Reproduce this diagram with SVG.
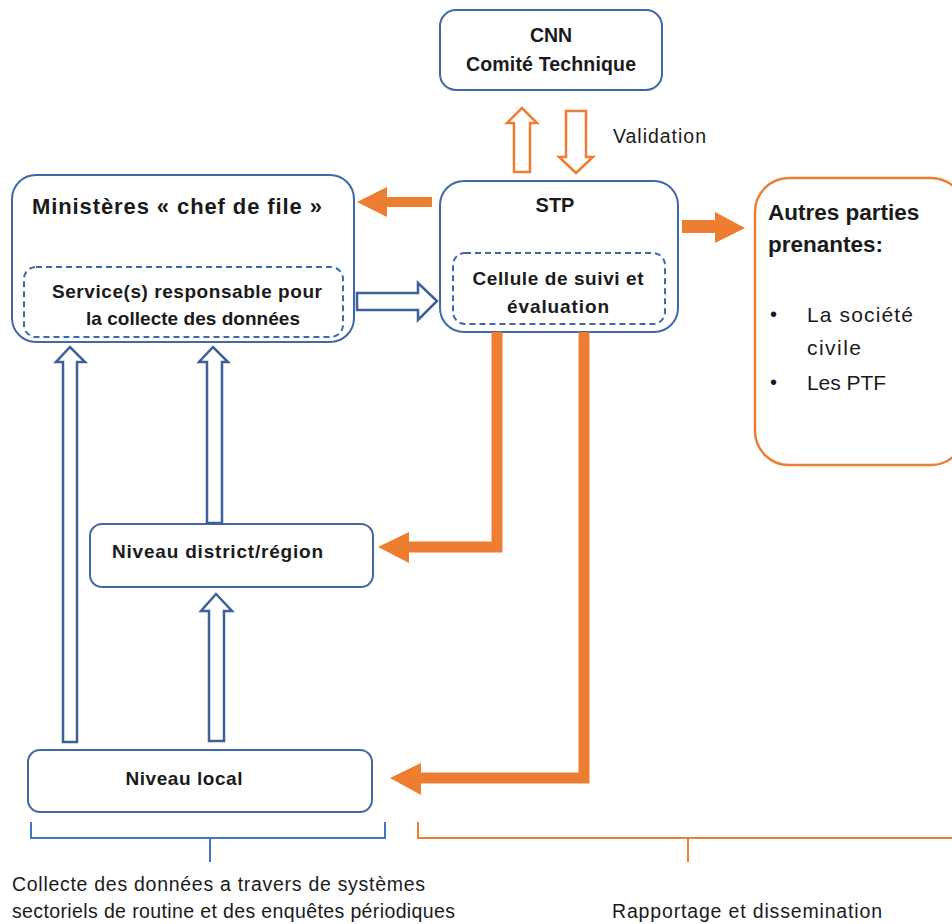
<svg xmlns="http://www.w3.org/2000/svg" width="952" height="924" viewBox="0 0 952 924">
<style>
.box{fill:#fff;stroke:#4068a8;stroke-width:2}
.dash{fill:none;stroke:#4068a8;stroke-width:2;stroke-dasharray:6 4}
.obox{fill:#fff;stroke:#ED7D31;stroke-width:2.5}
.hb{fill:#fff;stroke:#3d5f9a;stroke-width:2.5;stroke-linejoin:miter}
.ho{fill:#fff;stroke:#ED7D31;stroke-width:2.5;stroke-linejoin:miter}
.of{fill:#ED7D31}
.ol{fill:none;stroke:#ED7D31;stroke-width:11;stroke-linejoin:miter}
.bl{fill:none;stroke:#4472C4;stroke-width:2}
.ob{fill:none;stroke:#ED7D31;stroke-width:2}
text{font-family:"Liberation Sans",Arial,sans-serif;fill:#1a1a1a}
.b{font-weight:bold}
</style>
<rect width="952" height="924" fill="#fff"/>

<g id="cnn">
<rect class="box" x="440" y="10" width="222" height="80" rx="16"/>
<text class="b" x="551" y="42" font-size="19.5" text-anchor="middle">CNN</text>
<text class="b" x="551" y="71" font-size="19.5" text-anchor="middle" textLength="170">Comité Technique</text>
</g>

<g id="stp">
<rect class="box" x="440" y="181" width="238" height="151" rx="24"/>
<text class="b" x="555" y="212" font-size="20" text-anchor="middle">STP</text>
<rect class="dash" x="453" y="253" width="212" height="71" rx="12"/>
<text class="b" x="558" y="285" font-size="19" text-anchor="middle" textLength="171">Cellule de suivi et</text>
<text class="b" x="558" y="313" font-size="19" text-anchor="middle" textLength="102">évaluation</text>
</g>

<g id="ministeres">
<rect class="box" x="12" y="175" width="342" height="167" rx="24"/>
<text class="b" x="32" y="214" font-size="22" textLength="290">Ministères « chef de file »</text>
<rect class="dash" x="24" y="267" width="319" height="70" rx="12"/>
<text class="b" x="187" y="298" font-size="19" text-anchor="middle" textLength="270">Service(s) responsable pour</text>
<text class="b" x="193" y="325" font-size="19" text-anchor="middle" textLength="214">la collecte des données</text>
</g>

<g id="autres">
<rect class="obox" x="755" y="178" width="210" height="287" rx="34"/>
<text class="b" x="768" y="220" font-size="22.5">Autres parties</text>
<text class="b" x="768" y="252" font-size="22.5">prenantes:</text>
<text x="770" y="321" font-size="20">•</text>
<text x="807" y="322" font-size="21" textLength="106">La société</text>
<text x="807" y="355" font-size="21" textLength="54">civile</text>
<text x="770" y="389" font-size="20">•</text>
<text x="807" y="390" font-size="21" textLength="79">Les PTF</text>
</g>

<g id="district">
<rect class="box" x="90" y="524" width="283" height="63" rx="12"/>
<text class="b" x="112" y="558" font-size="19" textLength="211">Niveau district/région</text>
</g>

<g id="local">
<rect class="box" x="28" y="750" width="344" height="62" rx="12"/>
<text class="b" x="184" y="785" font-size="19" text-anchor="middle" textLength="117">Niveau local</text>
</g>

<g id="connectors">
<path class="ho" d="M514,172 V123 H507 L522,108 L537,123 H530 V172 Z"/>
<path class="ho" d="M566,111 H586 V157 H593 L576,173 L559,157 H566 Z"/>
<text x="613" y="143" font-size="19.5" textLength="93">Validation</text>

<path class="of" d="M432,197 V207 H387 V217 L357,202 L387,187 V197 Z"/>
<path class="of" d="M682,220 V233 H715 V243 L745,228 L715,212 V220 Z"/>

<path class="ol" d="M497,332 V547 H404"/>
<path class="of" d="M409,532 L378,547 L409,563 Z"/>
<path class="ol" d="M584,332 V778 H416"/>
<path class="of" d="M421,763 L390,778 L421,795 Z"/>

<path class="hb" d="M357,293 H418 V283 L437,301 L418,320 V310 H357 Z"/>
<path class="hb" d="M63,742 V362 H56 L70,347 L85,362 H77 V742 Z"/>
<path class="hb" d="M207,523 V362 H199 L213,347 L228,362 H222 V523 Z"/>
<path class="hb" d="M209,741 V611 H201 L216,594 L232,611 H224 V741 Z"/>

<path class="bl" d="M31,822 V838 H385 V822 M210,838 V862"/>
<path class="ob" d="M418,822 V838 H952 M688,838 V862"/>
</g>

<text x="12" y="891" font-size="19.5" textLength="413">Collecte des données a travers de systèmes</text>
<text x="12" y="918" font-size="19.5" textLength="443">sectoriels de routine et des enquêtes périodiques</text>
<text x="612" y="918" font-size="19.5" textLength="270">Rapportage et dissemination</text>
</svg>
